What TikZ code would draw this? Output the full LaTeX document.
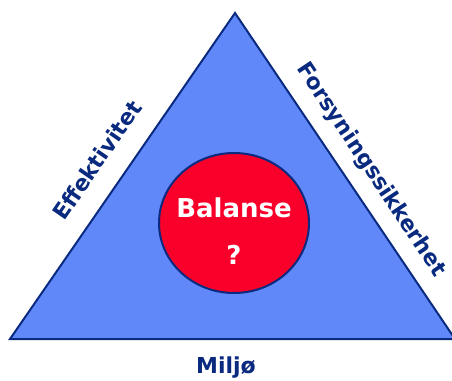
\documentclass[tikz,border=0pt]{standalone}
\usepackage{fontspec}
\setmainfont{DejaVu Sans}
\definecolor{trifill}{HTML}{6088F8}
\definecolor{navy}{HTML}{0A2A80}
\definecolor{ballred}{HTML}{F8002A}
\tikzset{
  lbl/.style={font=\bfseries\fontsize{22}{26}\selectfont, text=navy, inner sep=0pt},
  wlbl/.style={font=\bfseries\fontsize{26}{30}\selectfont, text=white, inner sep=0pt}
}
\begin{document}
\begin{tikzpicture}[x=1pt,y=-1pt]
\useasboundingbox (0,0) rectangle (452,380);
\fill[white] (0,0) rectangle (452,380);
\coordinate (top) at (235,13);
\coordinate (bl) at (10,339);
\coordinate (br) at (455,339);
\draw[navy, line width=2pt, fill=trifill, line join=miter] (top) -- (br) -- (bl) -- cycle;
\draw[navy, line width=2pt, fill=ballred] (234,223) ellipse [x radius=75, y radius=70];
\node[wlbl] (bal) at (234,208) {Balanse};
\node[wlbl] (q) at (234,255) {?};
\node[lbl] (milj) at (226,368) {Miljø};
\node[lbl, rotate=55.4] (eff) at (97,160) {Effektivitet};
\node[lbl, rotate=-56.3] (for) at (371,170) {Forsyningssikkerhet};
\end{tikzpicture}
\end{document}
